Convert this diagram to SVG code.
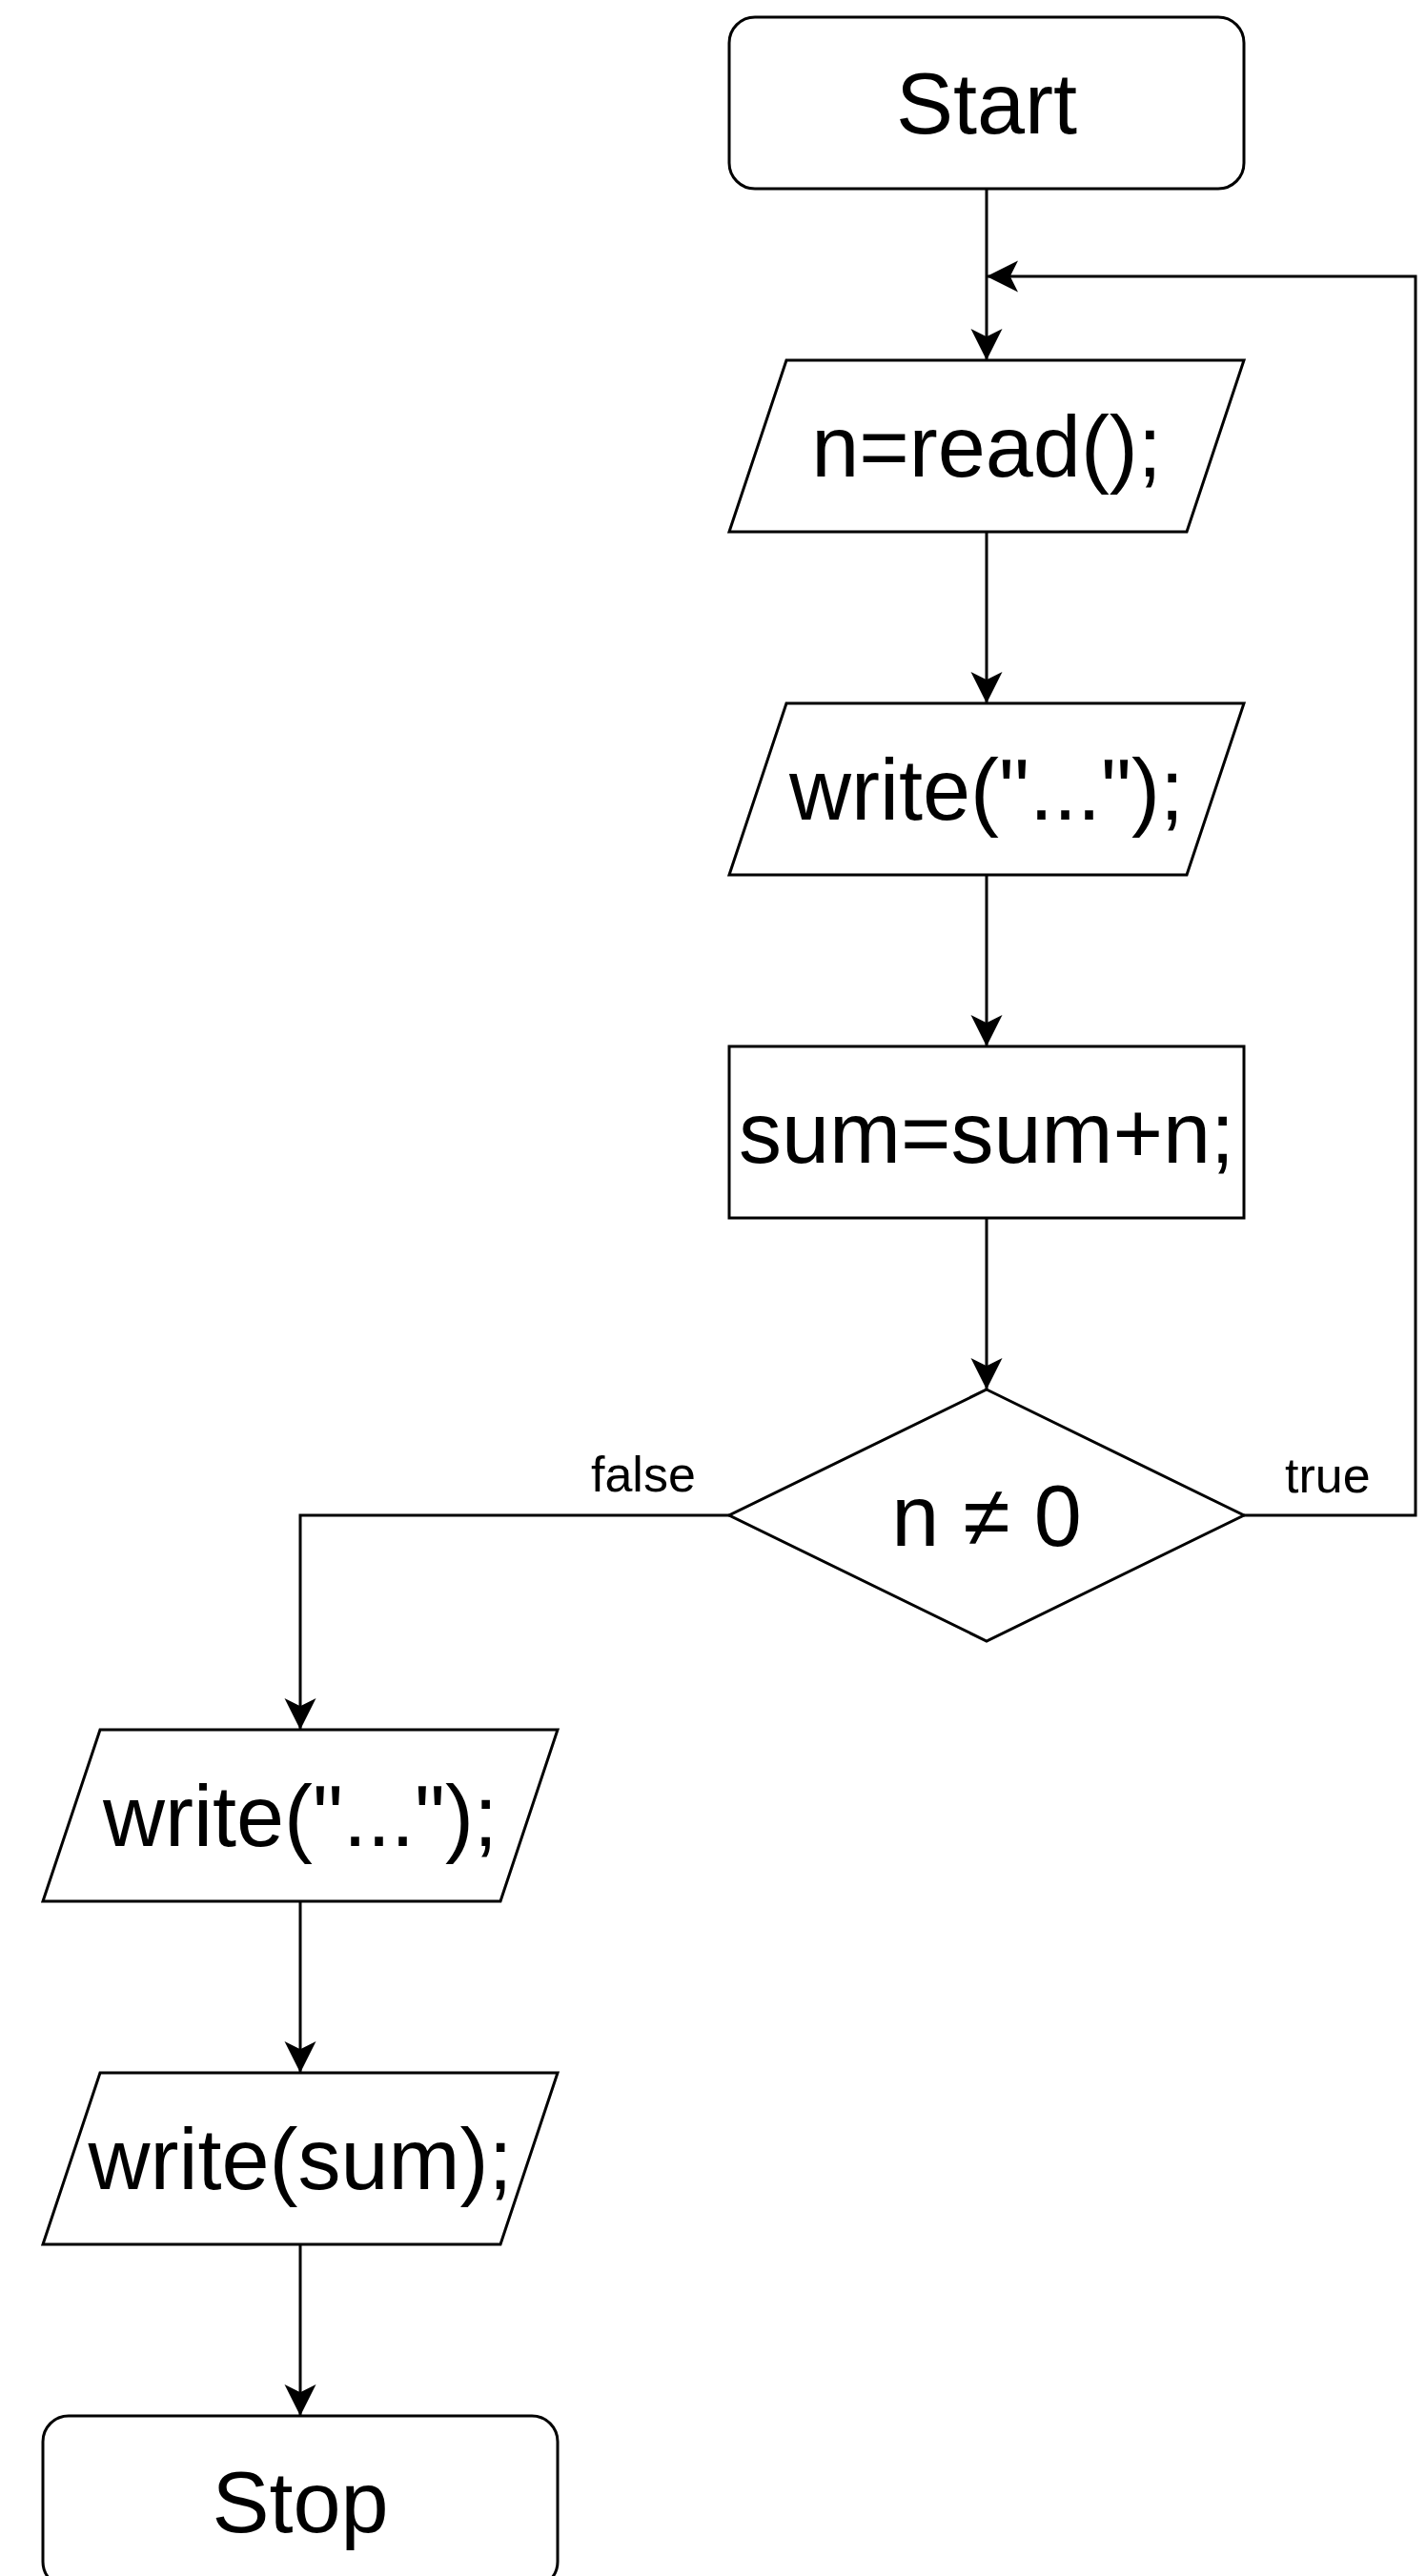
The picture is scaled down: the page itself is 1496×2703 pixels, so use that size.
<svg xmlns="http://www.w3.org/2000/svg" width="1496" height="2703" viewBox="0 0 1496 2703">
  <style>
    .shape { fill: #ffffff; stroke: #000000; stroke-width: 3; }
    .edge { fill: none; stroke: #000000; stroke-width: 3; }
    .label { font-family: "Liberation Sans", Arial, Helvetica, sans-serif; font-size: 90px; fill: #000000; text-anchor: middle; }
    .edge-label { font-family: "Liberation Sans", Arial, Helvetica, sans-serif; font-size: 52px; fill: #000000; }
  </style>
  <defs>
    <marker id="arrow" markerUnits="userSpaceOnUse" viewBox="-34 -17 35 34" refX="0" refY="0" markerWidth="35" markerHeight="34" orient="auto">
      <path d="M0,0 L-33,-16.5 L-24.75,0 L-33,16.5 Z" fill="#000000" stroke="none"/>
    </marker>
  </defs>
  <rect width="1496" height="2703" fill="#ffffff"/>

  <!-- connectors -->
  <g id="connectors">
    <path class="edge" d="M1035,198 L1035,378" marker-end="url(#arrow)"/>
    <path class="edge" d="M1035,558 L1035,738" marker-end="url(#arrow)"/>
    <path class="edge" d="M1035,918 L1035,1098" marker-end="url(#arrow)"/>
    <path class="edge" d="M1035,1278 L1035,1458" marker-end="url(#arrow)"/>
    <path class="edge" d="M1305,1590 L1485,1590 L1485,290 L1035,290" marker-end="url(#arrow)"/>
    <path class="edge" d="M765,1590 L315,1590 L315,1815" marker-end="url(#arrow)"/>
    <path class="edge" d="M315,1995 L315,2175" marker-end="url(#arrow)"/>
    <path class="edge" d="M315,2355 L315,2535" marker-end="url(#arrow)"/>
    <text class="edge-label" x="1348" y="1566">true</text>
    <text class="edge-label" x="620" y="1565">false</text>
  </g>

  <!-- nodes -->
  <g id="start">
    <rect class="shape" x="765" y="18" width="540" height="180" rx="27" ry="27"/>
    <text class="label" x="1035" y="140">Start</text>
  </g>
  <g id="read-n">
    <polygon class="shape" points="825,378 1305,378 1245,558 765,558"/>
    <text class="label" x="1035" y="500">n=read();</text>
  </g>
  <g id="write-prompt">
    <polygon class="shape" points="825,738 1305,738 1245,918 765,918"/>
    <text class="label" x="1035" y="860">write("...");</text>
  </g>
  <g id="accumulate">
    <rect class="shape" x="765" y="1098" width="540" height="180"/>
    <text class="label" x="1035" y="1220">sum=sum+n;</text>
  </g>
  <g id="check-n">
    <polygon class="shape" points="1035,1458 1305,1590 1035,1722 765,1590"/>
    <text class="label" x="1035" y="1622">n ≠ 0</text>
  </g>
  <g id="write-result-label">
    <polygon class="shape" points="105,1815 585,1815 525,1995 45,1995"/>
    <text class="label" x="315" y="1937">write("...");</text>
  </g>
  <g id="write-sum">
    <polygon class="shape" points="105,2175 585,2175 525,2355 45,2355"/>
    <text class="label" x="315" y="2297">write(sum);</text>
  </g>
  <g id="stop">
    <rect class="shape" x="45" y="2535" width="540" height="180" rx="27" ry="27"/>
    <text class="label" x="315" y="2657">Stop</text>
  </g>
</svg>
